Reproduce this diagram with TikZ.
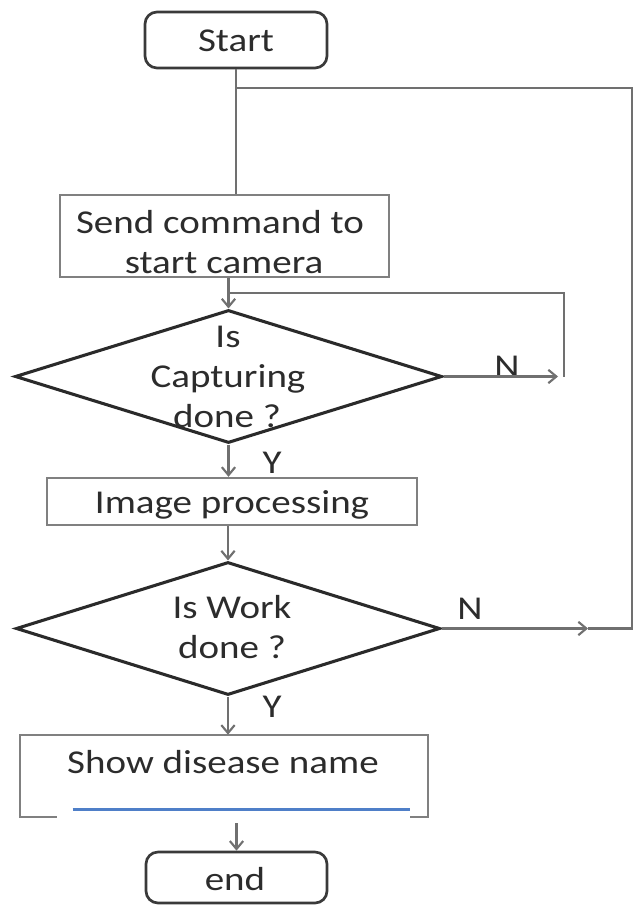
\documentclass[tikz,border=0pt]{standalone}
\usepackage{fontspec}
\setmainfont{Carlito}
\usepackage{graphicx}
\usetikzlibrary{shapes.geometric,arrows.meta,calc}
\definecolor{txt}{HTML}{2C2C2C}
\definecolor{boxc}{HTML}{808080}
\definecolor{dia}{HTML}{2A2A2A}
\definecolor{conc}{HTML}{707070}
\definecolor{term}{HTML}{3A3A3A}
\definecolor{blu}{HTML}{4F7FC8}
\newcommand\wt[1]{\scalebox{1.17}[1]{#1}}
\begin{document}
\begin{tikzpicture}[x=0.75pt,y=-0.75pt,
 lbl/.style={anchor=base,inner sep=0pt,text=txt,font=\fontsize{25}{28}\selectfont},
 termbox/.style={draw=term,line width=2pt,rounded corners=9pt,inner sep=0pt},
 procbox/.style={draw=boxc,line width=1.8pt,inner sep=0pt},
 plainbox/.style={inner sep=0pt},
 decide/.style={diamond,draw=dia,line width=2.3pt,inner sep=0pt},
 conn/.style={draw=conc,line width=1.6pt},
 arr/.style={-{Straight Barb[length=6pt,width=10pt]}}]
\useasboundingbox (0,0) rectangle (640,905);

% shapes
\node[termbox,minimum width=136.5pt,minimum height=42pt] (start) at (236,40) {};
\node[procbox,minimum width=246.75pt,minimum height=61.5pt] (send) at (224.5,236) {};
\node[decide,minimum width=320.25pt,minimum height=99.75pt] (d1) at (228.5,376.5) {};
\node[procbox,minimum width=277.5pt,minimum height=35.25pt] (proc) at (232,501.5) {};
\node[decide,minimum width=318pt,minimum height=99.75pt] (d2) at (228,628.5) {};
\node[plainbox,minimum width=306pt,minimum height=61.5pt] (show) at (224,776) {};
\node[termbox,minimum width=135.75pt,minimum height=38.25pt] (end) at (236.5,877.5) {};

% partial outline of the "Show disease name" box
\draw[draw=boxc,line width=1.8pt] ($(show.south west)+(37,0)$) -- (show.south west) -- (show.north west) -- (show.north east) -- (show.south east) -- ($(show.south east)+(-18,0)$);
\draw[draw=blu,line width=2pt] ($(show.south west)+(53,-8)$) -- ($(show.south east)+(-18,-8)$);

% texts
\node[lbl] (tstart) at (236,52) {\wt{Start}};
\node[lbl] (tsend1) at (220,234) {\wt{Send command to}};
\node[lbl] (tsend2) at (224,273) {\wt{start camera}};
\node[lbl] (td1a) at (228,347) {\wt{Is}};
\node[lbl] (td1b) at (228,387) {\wt{Capturing}};
\node[lbl] (td1c) at (227,427) {\wt{done ?}};
\node[lbl] (tproc) at (232,513) {\wt{Image processing}};
\node[lbl] (td2a) at (232,618) {\wt{Is Work}};
\node[lbl] (td2b) at (232,658) {\wt{done ?}};
\node[lbl] (tshow) at (223,773) {\wt{Show disease name}};
\node[lbl] (tend) at (235,890) {\wt{end}};

% branch labels
\node[lbl] (n1) at (507,377) {\wt{N}};
\node[lbl] (y1) at (272,473) {\wt{Y}};
\node[lbl] (n2) at (470,619) {\wt{N}};
\node[lbl] (y2) at (272,717) {\wt{Y}};

% coordinates for loops
\coordinate (ltop) at (236,88);
\coordinate (rtop) at (632,88);
\coordinate (rbot) at (632,628.5);
\coordinate (n2tip) at (588,628.5);
\coordinate (l1a) at (228.5,293);
\coordinate (l1b) at (564,293);
\coordinate (l1c) at (564,376.5);
\coordinate (n1tip) at (558,376.5);
\coordinate (sb) at (236.5,823);

% connectors
\draw[conn] (start.south) -- (start.south |- send.north);
\draw[conn] (ltop) -- (rtop) -- (rbot) -- (n2tip);
\draw[conn,arr] (send.south -| d1.north) -- (d1.north);
\draw[conn] (l1a) -- (l1b) -- (l1c);
\draw[conn,arr] (d1.east) -- (n1tip);
\draw[conn,arr] (d1.south) -- (d1.south |- proc.north);
\draw[conn,arr] (proc.south -| d2.north) -- (d2.north);
\draw[conn,arr] (d2.east) -- (n2tip);
\draw[conn,arr] (d2.south) -- (d2.south |- show.north);
\draw[conn,arr] (sb) -- (end.north);
\end{tikzpicture}
\end{document}
